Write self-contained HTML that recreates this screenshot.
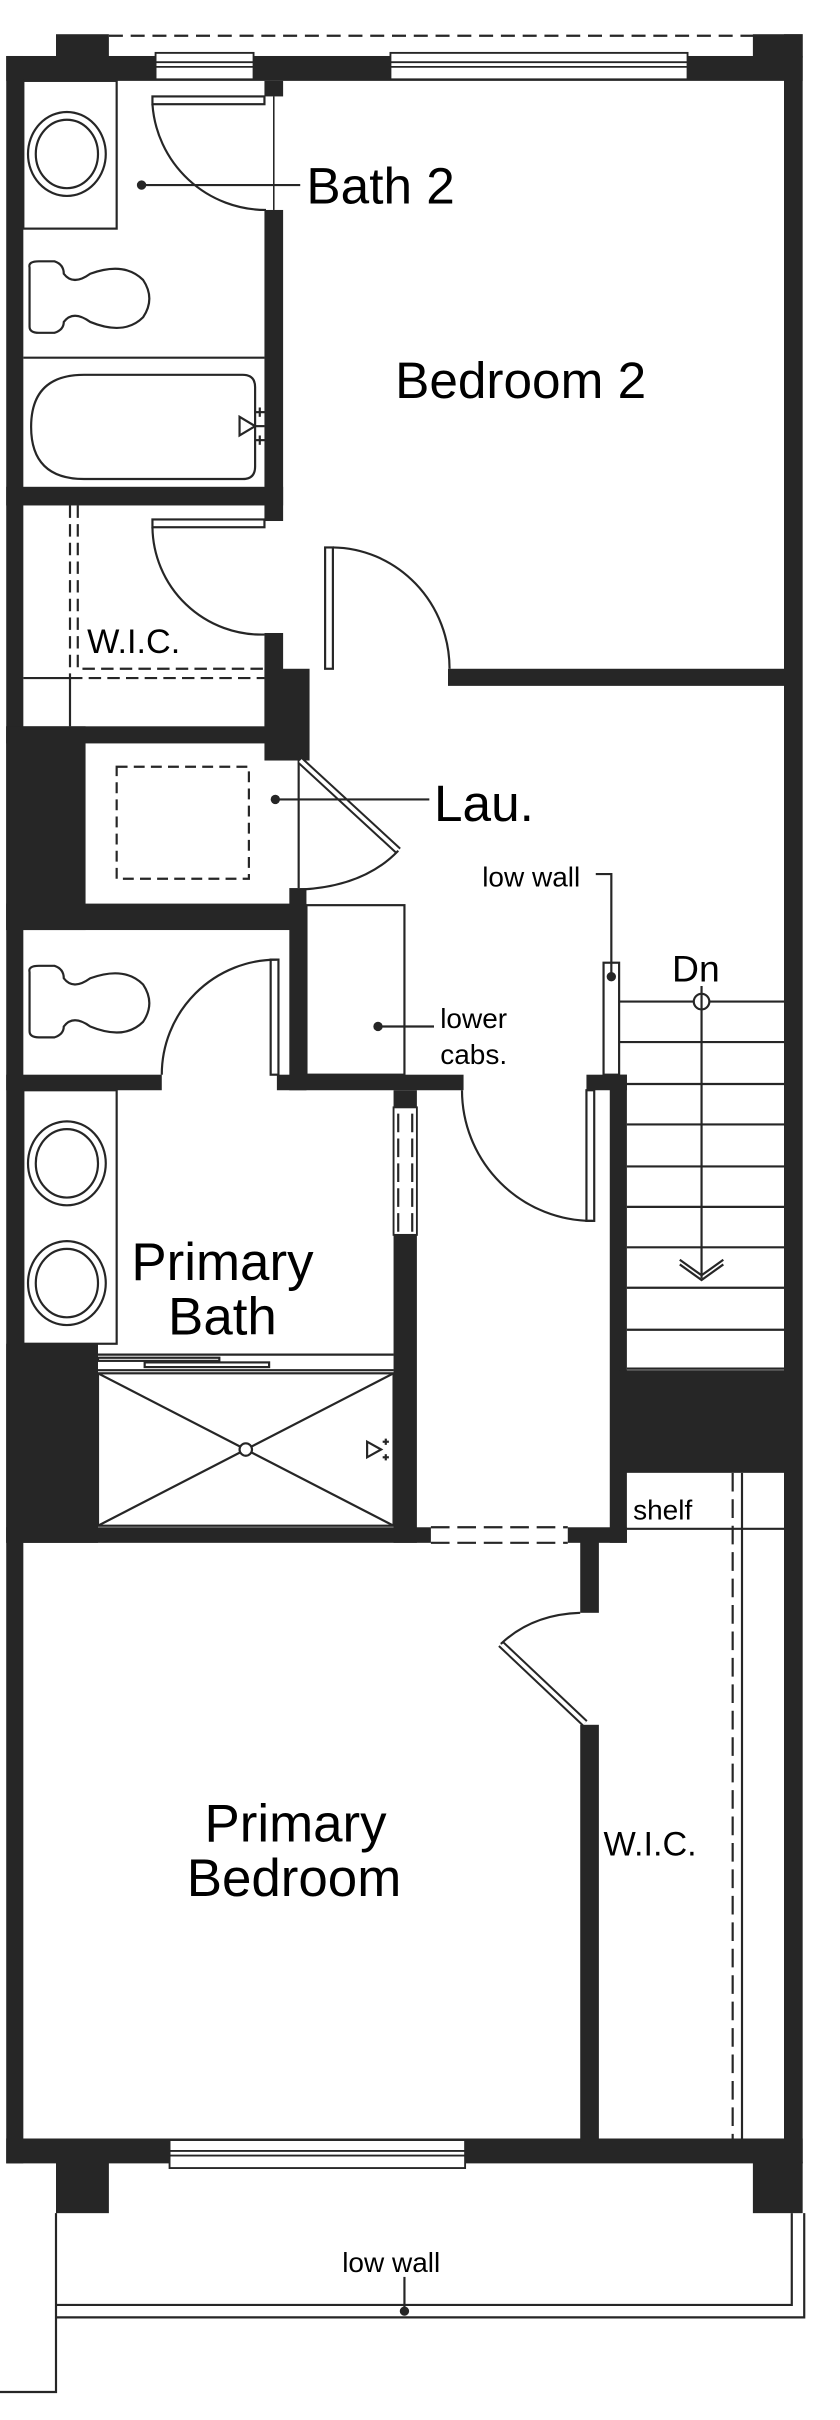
<!DOCTYPE html>
<html><head><meta charset="utf-8"><style>
html,body{margin:0;padding:0;background:#fff;}
svg{display:block;}
text{font-family:"Liberation Sans",sans-serif;fill:#000;}
</style></head><body>
<svg width="840" height="2420" viewBox="0 0 540 1556" preserveAspectRatio="none" xmlns="http://www.w3.org/2000/svg">
<g fill="#262626">
<rect x="36" y="22" width="34" height="15"/>
<rect x="484" y="22" width="32" height="15"/>
<rect x="4" y="36" width="512" height="16"/>
<rect x="4" y="36" width="11" height="1355"/>
<rect x="504" y="22" width="12" height="1369"/>
<rect x="4" y="1375" width="512" height="16"/>
<rect x="36" y="1390" width="34" height="33"/>
<rect x="484" y="1390" width="32" height="33"/>
<rect x="170" y="52" width="12" height="10"/>
<rect x="170" y="135" width="12" height="200"/>
<rect x="4" y="313" width="178" height="12"/>
<rect x="170" y="407" width="12" height="60"/>
<rect x="170" y="430" width="29" height="59"/>
<rect x="4" y="467" width="193" height="11"/>
<rect x="4" y="467" width="51" height="131"/>
<rect x="4" y="581" width="193" height="17"/>
<rect x="186" y="571" width="11" height="130"/>
<rect x="288" y="430" width="220" height="11"/>
<rect x="4" y="691" width="100" height="10"/>
<rect x="178" y="691" width="120" height="10"/>
<rect x="253" y="701" width="15" height="291"/>
<rect x="4" y="864" width="59" height="128"/>
<rect x="377" y="691" width="26" height="10"/>
<rect x="392" y="691" width="11" height="301"/>
<rect x="398" y="881" width="110" height="66"/>
<rect x="4" y="982" width="273" height="10"/>
<rect x="365" y="982" width="38" height="10"/>
<rect x="373" y="990" width="12" height="47"/>
<rect x="373" y="1109" width="12" height="268"/>
</g>
<g fill="#fff" stroke="#262626" stroke-width="1.2">
<rect x="100" y="34" width="63" height="17"/>
<line x1="100" y1="40" x2="163" y2="40"/><line x1="100" y1="43" x2="163" y2="43"/>
<rect x="251" y="34" width="191" height="17"/>
<line x1="251" y1="40" x2="442" y2="40"/><line x1="251" y1="43" x2="442" y2="43"/>
<rect x="109" y="1376" width="190" height="18"/>
<line x1="109" y1="1383" x2="299" y2="1383"/><line x1="109" y1="1386" x2="299" y2="1386"/>
<rect x="253" y="712" width="15" height="82"/>
</g>
<g fill="none" stroke="#262626" stroke-width="1.4">
<line x1="70" y1="23" x2="485" y2="23" stroke-dasharray="9,5"/>
<rect x="15" y="52" width="60" height="95"/>
<ellipse cx="43" cy="99" rx="25" ry="27"/><ellipse cx="43" cy="99" rx="20" ry="22"/>
<path d="M19 172 Q18 168 25 168 L35 168 Q41 170 41 176 Q47 184 58 176 Q80 168 92 180 Q100 192 92 204 Q80 216 58 207 Q47 199 41 207 Q41 212 35 214 L25 214 Q19 214 19 210 Z"/>
<line x1="15" y1="230" x2="170" y2="230"/>
<path d="M54 241 L156 241 Q164 241 164 249 L164 300 Q164 308 156 308 L54 308 Q20 308 20 274.5 Q20 241 54 241 Z"/>
<path d="M164 274 L154 268 L154 280 Z"/><line x1="164" y1="274" x2="170" y2="274"/>
<line x1="164" y1="265" x2="171" y2="265"/><line x1="167" y1="262" x2="167" y2="268"/>
<line x1="164" y1="283" x2="171" y2="283"/><line x1="167" y1="280" x2="167" y2="286"/>
<rect x="98" y="62" width="72" height="5"/>
<path d="M98 67 A73 73 0 0 0 171 135"/>
<line x1="176" y1="62" x2="176" y2="135" stroke-width="1"/>
<rect x="98" y="334" width="72" height="5"/>
<path d="M98 339 A70 70 0 0 0 170 408"/>
<path d="M45 325 L45 436 M50 325 L50 430 L170 430 M45 436 L170 436" stroke-dasharray="8,4"/>
<line x1="15" y1="436" x2="45" y2="436"/>
<line x1="45" y1="436" x2="45" y2="467"/>
<rect x="209" y="352" width="5" height="78"/>
<path d="M214 352 A76 78 0 0 1 289 430"/>
<rect x="75" y="493" width="85" height="72" stroke-dasharray="7,4"/>
<line x1="192" y1="489" x2="192" y2="571"/>
<path d="M193 489 L256 547" stroke-width="5" stroke="#262626"/>
<path d="M193 489 L256 547" stroke-width="2.4" stroke="#fff"/>
<path d="M256 547 Q234 570 193 572"/>
<rect x="197" y="582" width="63" height="109"/>
<path d="M19 625 Q18 621 25 621 L35 621 Q41 623 41 629 Q47 637 58 629 Q80 621 92 633 Q100 645 92 657 Q80 669 58 660 Q47 652 41 660 Q41 665 35 667 L25 667 Q19 667 19 663 Z"/>
<rect x="174" y="617" width="5" height="74"/>
<path d="M104 691 A74 74 0 0 1 178 617"/>
<rect x="15" y="701" width="60" height="163"/>
<ellipse cx="43" cy="748" rx="25" ry="27"/><ellipse cx="43" cy="748" rx="20" ry="22"/>
<ellipse cx="43" cy="825" rx="25" ry="27"/><ellipse cx="43" cy="825" rx="20" ry="22"/>
<line x1="63" y1="871" x2="253" y2="871"/>
<rect x="63" y="873" width="78" height="2"/>
<rect x="93" y="876" width="80" height="3"/>
<line x1="63" y1="881" x2="253" y2="881"/>
<rect x="63" y="883" width="190" height="98"/>
<line x1="63" y1="883" x2="253" y2="981"/><line x1="63" y1="981" x2="253" y2="883"/>
<circle cx="158" cy="932" r="4" fill="#fff"/>
<path d="M245 932 L236 927 L236 937 Z"/>
<line x1="248" y1="925" x2="248" y2="929"/><line x1="246" y1="927" x2="250" y2="927"/>
<line x1="248" y1="935" x2="248" y2="939"/><line x1="246" y1="937" x2="250" y2="937"/>
<line x1="256" y1="716" x2="256" y2="792" stroke-dasharray="12,4"/>
<line x1="265" y1="716" x2="265" y2="792" stroke-dasharray="12,4"/>
<rect x="377" y="701" width="5" height="84"/>
<path d="M297 701 A84 84 0 0 0 381 785"/>
<rect x="388" y="619" width="10" height="72"/>
<g>
<line x1="398" y1="644" x2="504" y2="644"/><line x1="398" y1="670" x2="504" y2="670"/>
<line x1="398" y1="697" x2="504" y2="697"/><line x1="403" y1="723" x2="504" y2="723"/>
<line x1="403" y1="750" x2="504" y2="750"/><line x1="403" y1="776" x2="504" y2="776"/>
<line x1="403" y1="802" x2="504" y2="802"/><line x1="403" y1="828" x2="504" y2="828"/>
<line x1="403" y1="855" x2="504" y2="855"/><line x1="403" y1="880" x2="504" y2="880"/>
</g>
<circle cx="451" cy="644" r="5" fill="#fff"/>
<line x1="451" y1="634" x2="451" y2="822"/>
<path d="M437 810 L451 820 L465 810 M437 813 L451 823 L465 813" stroke-width="1.4"/>
<path d="M383 562 L393 562 L393 628"/>
<line x1="403" y1="983" x2="504" y2="983"/>
<line x1="471" y1="947" x2="471" y2="1375" stroke-dasharray="12,5"/>
<line x1="477" y1="947" x2="477" y2="1375"/>
<path d="M277 982 L365 982 M277 992 L365 992" stroke-dasharray="12,5"/>
<path d="M322 1057 L376 1108" stroke-width="5" stroke="#262626"/>
<path d="M322 1057 L376 1108" stroke-width="2.4" stroke="#fff"/>
<path d="M322 1057 Q342 1038 373 1037"/>
<path d="M36 1423 L36 1538 L0 1538"/>
<path d="M36 1482 L509 1482 L509 1423"/>
<path d="M36 1490 L517 1490 L517 1423"/>
<line x1="260" y1="1464" x2="260" y2="1486"/>
<line x1="91" y1="119" x2="193" y2="119"/>
<line x1="177" y1="514" x2="276" y2="514"/>
<line x1="243" y1="660" x2="279" y2="660"/>
</g>
<g fill="#262626">
<circle cx="91" cy="119" r="3"/>
<circle cx="177" cy="514" r="3"/>
<circle cx="243" cy="660" r="3"/>
<circle cx="393" cy="628" r="3"/>
<circle cx="260" cy="1486" r="3"/>
</g>
<text x="197" y="131" font-size="33">Bath 2</text>
<text x="254" y="256" font-size="33">Bedroom 2</text>
<text x="56" y="420" font-size="22">W.I.C.</text>
<text x="279" y="528" font-size="33">Lau.</text>
<text x="310" y="570" font-size="18">low wall</text>
<text x="432" y="631" font-size="24">Dn</text>
<text x="283" y="661" font-size="18">lower</text>
<text x="283" y="684" font-size="18">cabs.</text>
<text x="143" y="823" font-size="34" text-anchor="middle">Primary</text>
<text x="143" y="858" font-size="34" text-anchor="middle">Bath</text>
<text x="407" y="977" font-size="18">shelf</text>
<text x="190" y="1184" font-size="34" text-anchor="middle">Primary</text>
<text x="189" y="1219" font-size="34" text-anchor="middle">Bedroom</text>
<text x="388" y="1193" font-size="22">W.I.C.</text>
<text x="220" y="1461" font-size="18">low wall</text>
</svg>
</body></html>
